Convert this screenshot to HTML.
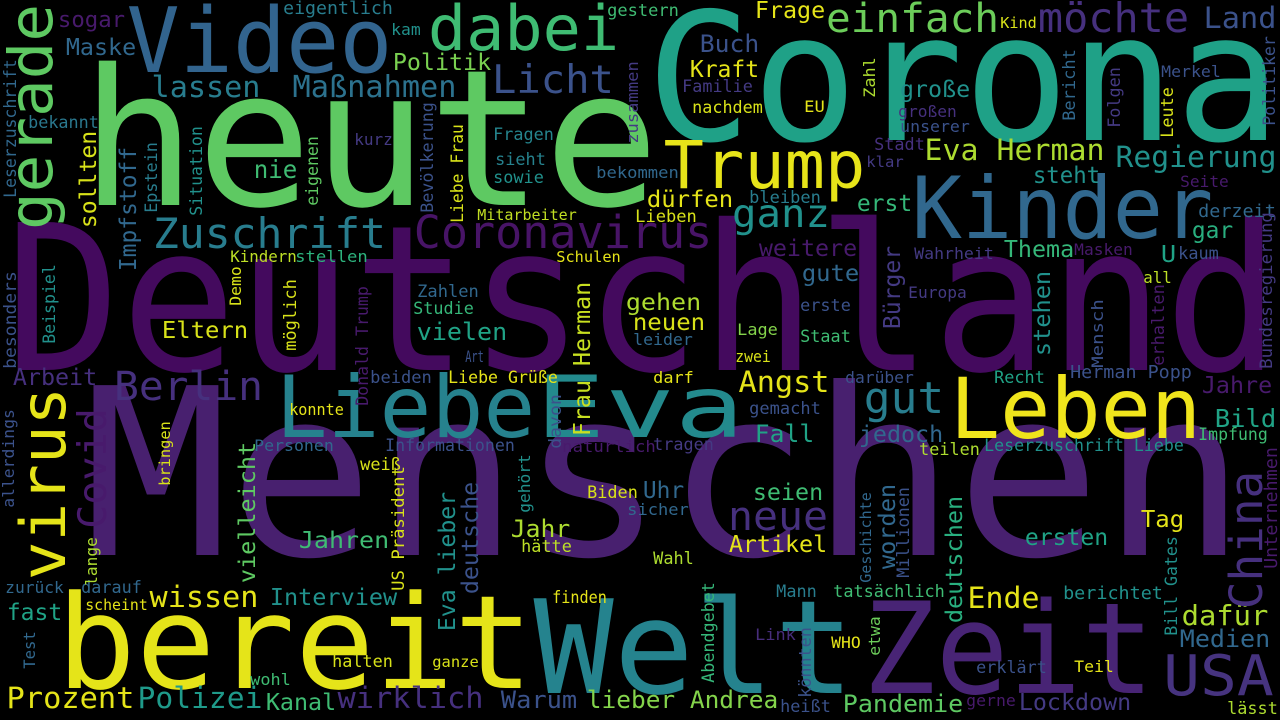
<!DOCTYPE html>
<html><head><meta charset="utf-8">
<style>
html,body{margin:0;padding:0;background:#000;}
svg{display:block;}
text{font-family:"DejaVu Sans Mono","Liberation Mono",monospace;}
</style></head>
<body>
<svg id="cloud" width="1280" height="720" viewBox="0 0 1280 720" xmlns="http://www.w3.org/2000/svg">
<rect width="1280" height="720" fill="#000"/>
</svg>
<script>
// horizontal words: text, x0, x1, baseline, fontSize, color
const hWords = [
["Deutschland",15,1270,370,203,"#440a5e"],
["Menschen",95,1235,555,233,"#48206f"],
["heute",90,650,205,190,"#5ec962"],
["Corona",655,1272,140,178,"#1fa187"],
["bereit",63,527,688,130,"#e5e419"],
["Welt",540,848,693,130,"#25838e"],
["Zeit",869,1148,693,127,"#482475"],
["Video",131,388,72,90,"#32648e"],
["Kinder",916,1209,238,86,"#31688e"],
["Liebe",280,531,437,86,"#26828e"],
["Eva",540,740,437,86,"#238a8d"],
["Leben",954,1197,438,84,"#f0e51c"],
["Trump",667,862,188,66,"#e7e419"],
["dabei",431,616,50,62,"#3fbc73"],
["USA",1166,1271,695,56,"#46337f"],
["Coronavirus",416,710,248,45,"#481467"],
["Zuschrift",155,384,248,42,"#287d8e"],
["gut",866,942,413,44,"#287d8e"],
["einfach",828,997,32,40,"#6ccd5a"],
["möchte",1040,1187,32,41,"#46307e"],
["neue",730,826,530,40,"#46307e"],
["Berlin",116,261,400,40,"#46307e"],
["Licht",494,612,93,39,"#3b528b"],
["ganz",734,828,227,39,"#21918c"],
["Land",1205,1275,28,29,"#3b528b"],
["Eva Herman",926,1103,160,29.5,"#addc30"],
["Regierung",1117,1275,167,29,"#21918c"],
["lassen",153,259,97,29,"#287d8e"],
["Maßnahmen",294,455,97,30,"#2c728e"],
["Angst",740,828,392,29,"#e5e419"],
["wissen",151,257,607,29,"#e5e419"],
["Ende",969,1038,608,29,"#e5e419"],
["dafür",1183,1267,625,28,"#addc30"],
["Prozent",8,133,708,29.5,"#e5e419"],
["Polizei",139,261,708,29,"#1f9a8a"],
["wirklich",339,482,708,29.5,"#46307e"],
["Frage",756,824,18,23,"#e5e419"],
["Buch",701,758,52,24,"#3b528b"],
["Kraft",691,758,77,23,"#e5e419"],
["große",901,969,97,23,"#21918c"],
["steht",1034,1099,183,23,"#21918c"],
["dürfen",648,732,207,23,"#e5e419"],
["erst",858,911,211,23,"#35b779"],
["gar",1193,1232,238,23,"#29af7f"],
["weitere",760,856,256,23,"#481a6c"],
["Thema",1005,1073,257,23,"#35b779"],
["U",1162,1175,262,23,"#20a386"],
["gute",803,858,281,23,"#31688e"],
["gehen",627,700,310,23,"#addc30"],
["neuen",634,704,330,23,"#d8e219"],
["Eltern",163,247,338,23,"#d8e219"],
["vielen",418,506,340,24,"#20a386"],
["Politik",394,490,70,23,"#7ad151"],
["Maske",67,135,55,23,"#31688e"],
["sogar",59,124,27,22,"#481a6c"],
["nie",255,296,178,25,"#3fbc73"],
["Arbeit",14,96,385,23,"#46307e"],
["Jahre",1203,1271,393,23,"#481a6c"],
["Bild",1216,1275,427,25,"#20a386"],
["Fall",756,813,442,24,"#20a386"],
["jedoch",860,942,442,23,"#31688e"],
["Uhr",644,683,498,23,"#31688e"],
["seien",754,822,500,23,"#3fbc73"],
["Tag",1142,1183,527,23,"#e5e419"],
["Jahr",512,569,537,24,"#addc30"],
["ersten",1026,1107,545,23,"#20a386"],
["Jahren",300,388,548,23,"#3fbc73"],
["Artikel",730,826,552,23,"#e5e419"],
["Interview",271,396,605,23,"#21918c"],
["fast",8,61,620,23,"#20a386"],
["Medien",1181,1269,647,24,"#31688e"],
["Kanal",267,335,710,23,"#3fbc73"],
["Warum",502,576,708,24,"#3b528b"],
["lieber Andrea",588,777,708,24,"#84d44b"],
["Pandemie",844,962,712,24,"#5ec962"],
["Lockdown",1020,1130,710,23,"#443a83"],
["eigentlich",284,392,14,18,"#287d8e"],
["kam",392,420,35,16,"#21918c"],
["gestern",608,678,16,17,"#3fbc73"],
["bekannt",29,98,128,17,"#2a788e"],
["kurz",355,392,145,16,"#443a83"],
["Fragen",494,553,140,17,"#25858e"],
["sieht",496,545,165,17,"#26828e"],
["sowie",494,543,183,17,"#21918c"],
["bekommen",597,678,178,16,"#31688e"],
["Mitarbeiter",478,576,220,15,"#c2df23"],
["Kindern",231,296,262,16,"#bddf26"],
["stellen",296,367,262,16,"#2db27d"],
["Schulen",557,620,262,15,"#e5e419"],
["Zahlen",418,478,297,17,"#31688e"],
["Studie",414,473,314,17,"#35b779"],
["Art",466,483,362,16,"#3b528b"],
["Kind",1001,1036,28,15,"#d8e219"],
["Familie",683,752,92,16.5,"#443a83"],
["nachdem",693,762,113,16.5,"#d8e219"],
["EU",805,824,112,16,"#e5e419"],
["großen",899,956,117,16,"#46307e"],
["unserer",901,969,132,16,"#3b528b"],
["Stadt",875,924,150,16.5,"#46307e"],
["klar",867,903,167,15,"#443a83"],
["Merkel",1162,1220,77,16,"#3b528b"],
["Seite",1181,1228,187,16,"#481a6c"],
["bleiben",750,820,203,16.5,"#287d8e"],
["derzeit",1199,1275,217,18,"#31688e"],
["Lieben",636,696,222,16.5,"#d8e219"],
["Masken",1075,1132,255,16,"#481a6c"],
["kaum",1179,1218,259,16.5,"#3b528b"],
["Wahrheit",915,993,259,16,"#443a83"],
["Europa",909,966,298,16,"#443a83"],
["all",1144,1171,283,16,"#bddf26"],
["erste",801,850,311,16.5,"#3b528b"],
["Lage",738,777,335,16,"#84d44b"],
["Staat",801,850,342,16.5,"#3fbc73"],
["leider",634,692,345,16,"#31688e"],
["zwei",736,770,362,16,"#d8e219"],
["beiden",371,431,383,16.5,"#3b528b"],
["Liebe Grüße",449,557,383,16.5,"#e5e419"],
["konnte",290,343,415,16,"#e5e419"],
["Personen",255,333,451,16,"#31688e"],
["Informationen",386,514,451,16.5,"#3b528b"],
["natürlich",563,655,452,16,"#481a6c"],
["weiß",361,400,470,16.5,"#d8e219"],
["Biden",588,637,498,16.5,"#d8e219"],
["sicher",628,688,515,16,"#31688e"],
["hätte",522,571,552,16.5,"#bddf26"],
["zurück",6,63,593,16,"#31688e"],
["darauf",82,141,593,16.5,"#31688e"],
["scheint",86,147,610,15,"#e5e419"],
["finden",553,606,603,16.5,"#e5e419"],
["halten",333,392,667,16.5,"#d8e219"],
["ganze",433,478,667,15,"#d8e219"],
["wohl",251,290,685,16,"#3fbc73"],
["darf",654,693,383,16,"#e5e419"],
["darüber",846,913,383,16,"#3b528b"],
["Recht",995,1044,383,16.5,"#20a386"],
["Herman Popp",1071,1191,378,18,"#3b528b"],
["gemacht",750,820,414,16.5,"#3b528b"],
["Impfung",1199,1267,440,16.5,"#3fbc73"],
["tragen",654,713,450,16.5,"#443a83"],
["teilen",920,979,455,16.5,"#addc30"],
["Leserzuschrift Liebe",985,1183,451,16.5,"#21918c"],
["Wahl",654,693,564,16.5,"#addc30"],
["Mann",777,816,597,16.5,"#287d8e"],
["tatsächlich",834,944,597,16.5,"#3fbc73"],
["berichtet",1064,1162,599,18,"#21918c"],
["Link",756,795,640,16,"#472d7b"],
["WHO",832,860,648,16,"#e5e419"],
["erklärt",977,1046,673,16.5,"#3b528b"],
["Teil",1075,1113,672,16,"#e5e419"],
["heißt",781,830,712,16.5,"#3b528b"],
["gerne",967,1015,706,16,"#481a6c"],
["lässt",1228,1277,714,16.5,"#addc30"]
];
// vertical words (reading bottom to top): text, baselineX, yBottom, yTop, fontSize, color
const vWords = [
["gerade",52,227,7,61,"#5ec962"],
["virus",65,577,390,62,"#e5e419"],
["China",1262,607,473,45,"#46307e"],
["Covid",106,527,410,39,"#481a6c"],
["Frau Herman",590,435,283,23,"#c8e020"],
["sollten",96,227,132,23,"#d8e219"],
["Impfstoff",136,270,148,23,"#31688e"],
["vielleicht",255,582,443,23,"#5ec962"],
["Eva lieber",455,630,493,23,"#21918c"],
["deutsche",478,593,483,23,"#3b528b"],
["Bürger",900,328,247,23,"#443a83"],
["stehen",1050,355,272,23,"#21918c"],
["worden",895,568,485,23,"#31688e"],
["deutschen",962,622,497,23,"#29af7f"],
["Leserzuschrift",16,197,60,16.5,"#31688e"],
["Epstein",157,212,143,16.5,"#287d8e"],
["Situation",202,215,127,16.5,"#21918c"],
["eigenen",318,205,137,16.5,"#5ec962"],
["Bevölkerung",433,212,103,16.5,"#3b528b"],
["Liebe Frau",463,222,125,16.5,"#d8e219"],
["zusammen",638,143,62,16,"#443a83"],
["besonders",16,368,272,17,"#3b528b"],
["Beispiel",55,343,265,16.5,"#21918c"],
["Demo",241,305,267,16,"#d8e219"],
["möglich",296,350,280,16.5,"#d8e219"],
["Donald Trump",368,405,287,16.5,"#481a6c"],
["Zahl",875,97,58,16,"#addc30"],
["Bericht",1075,120,50,16.5,"#31688e"],
["Folgen",1120,127,68,16.5,"#443a83"],
["Leute",1173,137,88,16.5,"#d8e219"],
["Politiker",1275,125,37,16.5,"#3b528b"],
["Mensch",1103,367,300,16,"#3b528b"],
["erhalten",1164,365,285,16.5,"#481a6c"],
["Bundesregierung",1272,368,213,17,"#443a83"],
["allerdings",14,507,410,16,"#3b528b"],
["bringen",170,485,422,15,"#d8e219"],
["lange",97,585,538,16,"#addc30"],
["US Präsident",404,590,467,17,"#d8e219"],
["gehört",530,512,455,16,"#21918c"],
["davon",561,448,395,16.5,"#3b528b"],
["Test",35,668,632,16,"#31688e"],
["Unternehmen",1277,568,448,18,"#481a6c"],
["Millionen",909,577,488,16.5,"#3b528b"],
["Geschichte",871,582,493,15,"#31688e"],
["Bill Gates",1177,635,537,16.5,"#21918c"],
["Abendgebet",714,682,583,16.5,"#35b779"],
["etwa",880,655,617,16,"#6ccd5a"],
["könnten",811,697,628,16.5,"#3b528b"]
];

const NS = "http://www.w3.org/2000/svg";
const svg = document.getElementById("cloud");
function slug(s){return s.toLowerCase().replace(/ä/g,"ae").replace(/ö/g,"oe").replace(/ü/g,"ue").replace(/ß/g,"ss").replace(/[^a-z0-9]+/g,"-");}

hWords.forEach(function(w){
  const t = document.createElementNS(NS,"text");
  const fs = w[4];
  t.setAttribute("x", w[1] - 0.05*fs);
  t.setAttribute("y", w[3]);
  t.setAttribute("font-size", fs);
  t.setAttribute("fill", w[5]);
  t.setAttribute("textLength", (w[2]-w[1]) + 0.1*fs);
  t.setAttribute("lengthAdjust", "spacingAndGlyphs");
  t.textContent = w[0];
  
  
  svg.appendChild(t);
});

vWords.forEach(function(w){
  const t = document.createElementNS(NS,"text");
  const fs = w[4];
  t.setAttribute("transform", "translate(" + w[1] + "," + w[2] + ") rotate(-90)");
  t.setAttribute("x", -0.05*fs);
  t.setAttribute("y", 0);
  t.setAttribute("font-size", fs);
  t.setAttribute("fill", w[5]);
  t.setAttribute("textLength", (w[2]-w[3]) + 0.1*fs);
  t.setAttribute("lengthAdjust", "spacingAndGlyphs");
  t.textContent = w[0];
  
  
  svg.appendChild(t);
});
</script>
</body></html>
